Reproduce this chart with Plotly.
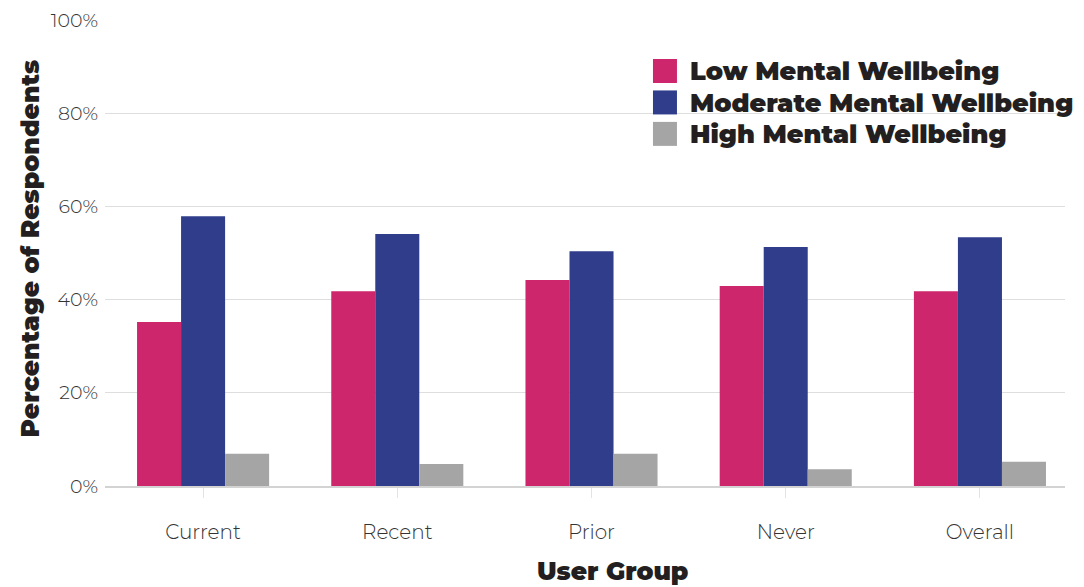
import plotly.graph_objects as go

# user groups on the x axis
groups = ['Current', 'Recent', 'Prior', 'Never', 'Overall']

# percentage of respondents per wellbeing level
low_wellbeing = [35.2, 41.8, 44.2, 42.9, 41.8]
moderate_wellbeing = [57.9, 54.1, 50.4, 51.3, 53.4]
high_wellbeing = [6.9, 4.7, 6.9, 3.6, 5.2]

series_names = ['Low Mental Wellbeing', 'Moderate Mental Wellbeing', 'High Mental Wellbeing']
series_colors = ['#CD266C', '#2F3D8A', '#A5A5A5']

y_ticks = [0, 20, 40, 60, 80, 100]
y_tick_labels = ['0%', '20%', '40%', '60%', '80%', '100%']

heavy_font = dict(family='Montserrat, Inter, DejaVu Sans', size=25, color='#231f20', weight=900)
legend_font = dict(family='Montserrat, Inter, DejaVu Sans', size=25.5, color='#231f20', weight=900)
x_tick_font = dict(family='Montserrat, Inter, Open Sans', size=20, color='#333333', weight=300)
y_tick_font = dict(family='Montserrat, Inter, Open Sans', size=19, color='#333333', weight=300)

data = []
for name, values, color in zip(series_names, [low_wellbeing, moderate_wellbeing, high_wellbeing], series_colors):
    data.append(go.Bar(
        x=groups,
        y=values,
        name=name,
        marker=dict(color=color, line=dict(width=0)),
        showlegend=False,
        hoverinfo='skip',
    ))

# legend drawn by hand so it can hang past the plot area without
# squeezing it, and with the big square swatches of the original
annotations = []
shapes = []
row_top = 0.8906      # centre of first legend row (paper coords)
row_step = 0.0675
swatch_w = 0.025
swatch_h = 0.0515
for i, (name, color) in enumerate(zip(series_names, series_colors)):
    yc = row_top - i * row_step
    shapes.append(dict(
        type='rect', xref='paper', yref='paper',
        x0=0.5708, x1=0.5708 + swatch_w, y0=yc - swatch_h / 2, y1=yc + swatch_h / 2,
        fillcolor=color, line=dict(width=0),
    ))
    annotations.append(dict(
        text=name, xref='paper', yref='paper', x=0.607, y=yc,
        xanchor='left', yanchor='middle', showarrow=False, font=legend_font,
    ))

annotations.append(dict(text='User Group', xref='paper', yref='paper', x=0.529, y=-0.182,
                        xanchor='center', yanchor='middle', showarrow=False, font=heavy_font))
annotations.append(dict(text='Percentage of Respondents', xref='paper', yref='paper', x=-0.078, y=0.51,
                        xanchor='center', yanchor='middle', textangle=-90, showarrow=False, font=heavy_font))

# the page puts the figure 8px in from the top-left corner
layout = go.Layout(
    barmode='group',
    bargap=0.32,
    bargroupgap=0,
    width=1076,
    height=579,
    margin=dict(l=97, r=19, t=12, b=101),
    plot_bgcolor='white',
    paper_bgcolor='white',
    showlegend=False,
    xaxis=dict(
        range=[-0.505, 4.438],
        automargin=False,
        showgrid=False,
        showline=True,
        linecolor='#d3d3d3',
        linewidth=2,
        ticks='outside',
        ticklen=10,
        tickcolor='#e3e3e3',
        tickwidth=1,
        ticklabelstandoff=17,
        tickfont=x_tick_font,
    ),
    yaxis=dict(
        range=[0, 100],
        automargin=False,
        tickvals=y_ticks,
        ticktext=y_tick_labels,
        showgrid=True,
        gridcolor='#dedede',
        gridwidth=1,
        zeroline=False,
        showline=False,
        ticklabelstandoff=6,
        tickfont=y_tick_font,
    ),
    shapes=shapes,
    annotations=annotations,
)

fig = go.Figure(data, layout)
fig.write_html('out.html')
